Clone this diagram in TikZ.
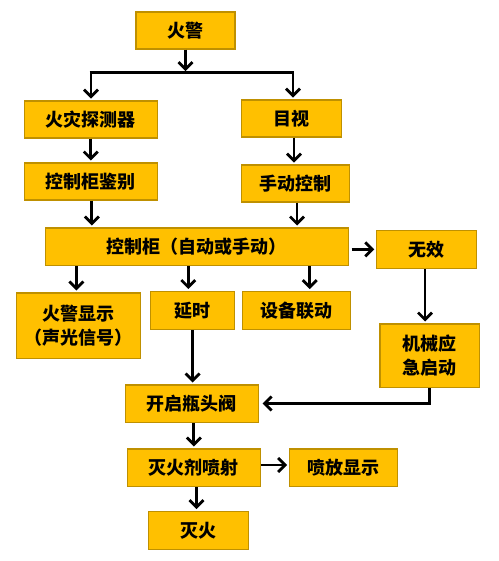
\documentclass[tikz,border=0pt]{standalone}
\usepackage{fontspec}
\newfontfamily\cjk{Noto Sans CJK SC}
\usetikzlibrary{arrows.meta,calc}
\definecolor{boxfill}{HTML}{FFC000}
\definecolor{boxline}{HTML}{BF9000}
\tikzset{
  stepbox/.style={draw=boxline, fill=boxfill, line width=1.5pt, inner sep=0pt,
    font=\cjk\bfseries\fontsize{18}{24}\selectfont, align=center},
  flow/.style={line width=2.8pt, -{Straight Barb[length=7pt,width=14pt]}, shorten >=1.5pt},
  bar/.style={line width=2.8pt}
}
\begin{document}
\begin{tikzpicture}[x=1pt,y=-1pt]
\useasboundingbox (0,0) rectangle (498,561);
\node[stepbox, minimum width=99pt, minimum height=37pt] (fire) at (185.5,30.5) {火警};
\node[stepbox, minimum width=133pt, minimum height=37pt] (det) at (90.8,119.3) {火灾探测器};
\node[stepbox, minimum width=100pt, minimum height=37pt] (vis) at (291.3,118.3) {目视};
\node[stepbox, minimum width=133pt, minimum height=37pt] (ident) at (90.8,181.3) {控制柜鉴别};
\node[stepbox, minimum width=108pt, minimum height=37pt] (manual) at (295.3,183.3) {手动控制};
\node[stepbox, minimum width=303pt, minimum height=37.5pt] (cab) at (196.8,246.5) {控制柜（自动或手动）};
\node[stepbox, minimum width=100pt, minimum height=38pt] (inv) at (426.5,249.3) {无效};
\node[stepbox, minimum width=124pt, minimum height=65.5pt] (alarm) at (78.3,325.5) {火警显示\\（声光信号）};
\node[stepbox, minimum width=84pt, minimum height=38pt] (delay) at (192.7,310.3) {延时};
\node[stepbox, minimum width=108pt, minimum height=38pt] (link) at (296.3,310.3) {设备联动};
\node[stepbox, minimum width=99.5pt, minimum height=63.5pt] (mech) at (429.5,355.5) {机械应\\急启动};
\node[stepbox, minimum width=133pt, minimum height=37.5pt] (valve) at (191.8,403.5) {开启瓶头阀};
\node[stepbox, minimum width=133pt, minimum height=37.5pt] (spray) at (193.8,467.5) {灭火剂喷射};
\node[stepbox, minimum width=108pt, minimum height=37.5pt] (show) at (343.3,467.5) {喷放显示};
\node[stepbox, minimum width=100pt, minimum height=38pt] (out) at (198.5,530.3) {灭火};
\coordinate (bm) at (185.5,72.7);
\coordinate (bl) at (91,72.7);
\coordinate (br) at (293,72.7);
\draw[flow] (fire.south) -- (bm);
\draw[bar] ([xshift=-1.4pt]bl) -- ([xshift=1.4pt]br);
\draw[flow] (bl) -- (bl |- det.north);
\draw[flow] (br) -- (br |- vis.north);
\draw[flow] (det.south) -- (ident.north);
\draw[flow] ([xshift=1pt]ident.south) -- ([xshift=1pt]ident.south |- cab.north);
\draw[flow] ([xshift=2.7pt]vis.south) -- ([xshift=2.7pt]vis.south |- manual.north);
\draw[flow] ([xshift=1.7pt]manual.south) -- ([xshift=1.7pt]manual.south |- cab.north);
\draw[flow] ([xshift=2.5pt]cab.east |- inv.west) -- (inv.west);
\draw[flow] ([xshift=-2pt]alarm.north |- cab.south) -- ([xshift=-2pt]alarm.north);
\draw[flow] ([xshift=-4.4pt]delay.north |- cab.south) -- ([xshift=-4.4pt]delay.north);
\draw[flow] ([xshift=13.4pt]link.north |- cab.south) -- ([xshift=13.4pt]link.north);
\draw[flow] ([xshift=-1.5pt]inv.south) -- ([xshift=-1.5pt]inv.south |- mech.north);
\draw[flow] (delay.south) -- (delay.south |- valve.north);
\draw[flow] (mech.south) |- ([xshift=2pt]valve.east);
\draw[flow] (spray.north |- valve.south) -- (spray.north);
\draw[flow] ([yshift=2.5pt]spray.east) -- ([yshift=2.5pt]show.west);
\draw[flow] ([xshift=-2pt]out.north |- spray.south) -- ([xshift=-2pt]out.north);
\end{tikzpicture}
\end{document}
